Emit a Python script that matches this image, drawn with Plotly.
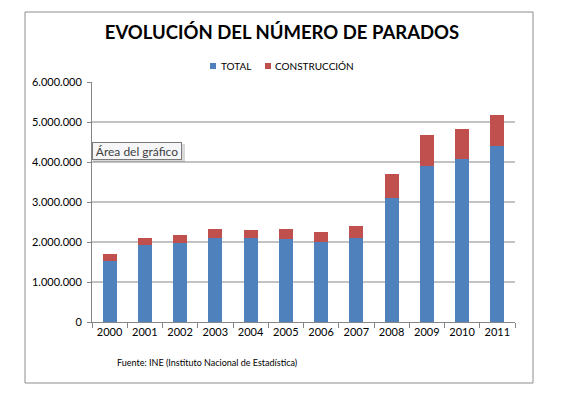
import plotly.graph_objects as go

years = ["2000", "2001", "2002", "2003", "2004", "2005", "2006", "2007", "2008", "2009", "2010", "2011"]
total = [1525000, 1925000, 1970000, 2090000, 2090000, 2070000, 2000000, 2110000, 3110000, 3910000, 4070000, 4410000]
construccion = [175000, 175000, 205000, 235000, 210000, 260000, 250000, 290000, 590000, 770000, 750000, 770000]
y_tickvals = [0, 1000000, 2000000, 3000000, 4000000, 5000000, 6000000]
y_ticktext = ["0", "1.000.000", "2.000.000", "3.000.000", "4.000.000", "5.000.000", "6.000.000"]
series_names = ["TOTAL", "CONSTRUCCIÓN"]
series_colors = ["#4F81BD", "#C0504D"]

# the page body has an 8px margin, so the figure is drawn 8px smaller and
# every target pixel position is shifted by that offset
OFF = 8
W, H = 566 - OFF, 398 - OFF
PLOT_X0, PLOT_X1, PLOT_Y0, PLOT_Y1 = 92, 515, 82, 322  # target page pixels
L, R, T, B = PLOT_X0 - OFF, W - (PLOT_X1 - OFF), PLOT_Y0 - OFF, H - (PLOT_Y1 - OFF)
PW, PH = W - L - R, H - T - B


def px(x):
    return (x - OFF - L) / PW


def py(y):
    return (H - B - (y - OFF)) / PH


FONT = "Lato"
GRID = "#868686"

fig = go.Figure()
fig.add_trace(go.Bar(x=years, y=total, name=series_names[0], showlegend=False,
                     marker=dict(color=series_colors[0], line=dict(width=0))))
fig.add_trace(go.Bar(x=years, y=construccion, name=series_names[1], showlegend=False,
                     marker=dict(color=series_colors[1], line=dict(width=0))))

shapes = []
# gridlines (not at top of range)
for v in y_tickvals[1:-1]:
    shapes.append(dict(type="line", xref="paper", yref="y", x0=0, x1=1, y0=v, y1=v,
                       line=dict(color=GRID, width=1), layer="below"))
# outer chart border
shapes.append(dict(type="rect", xref="paper", yref="paper", x0=px(25), x1=px(533), y0=py(12), y1=py(383),
                   line=dict(color="#8c8c8c", width=1), layer="below"))
# tooltip shadow
shapes.append(dict(type="rect", xref="paper", yref="paper", x0=px(93), x1=px(185), y0=py(144), y1=py(162),
                   line=dict(width=0), fillcolor="rgba(0,0,0,0.15)", layer="above"))

# custom legend (small squares like the original)
legend_sq_x = [210, 265]
legend_tx_x = [219, 273]
annotations = []
for name, col, sx, tx in zip(series_names, series_colors, legend_sq_x, legend_tx_x):
    shapes.append(dict(type="rect", xref="paper", yref="paper", x0=px(sx), x1=px(sx + 6),
                       y0=py(63), y1=py(69), line=dict(width=0), fillcolor=col))
    annotations.append(dict(text=name, xref="paper", yref="paper", x=px(tx), y=py(66),
                            xanchor="left", yanchor="middle", showarrow=False,
                            font=dict(size=10, family=FONT, color="#000000")))

annotations += [
    dict(text="Área del gráfico", xref="paper", yref="paper", x=px(137), y=py(151),
         xanchor="center", yanchor="middle", showarrow=False, width=86, height=14, align="center",
         font=dict(size=12, family=FONT, color="#404040"),
         bgcolor="#f6f6f9", bordercolor="#7a7a7a", borderwidth=1, borderpad=1),
    dict(text="Fuente: INE (Instituto Nacional de Estadística)", xref="paper", yref="paper",
         x=px(115), y=py(362), xanchor="left", yanchor="middle", showarrow=False,
         font=dict(size=9, family=FONT, color="#000000")),
]

fig.update_layout(
    width=W, height=H,
    margin=dict(l=L, r=R, t=T, b=B),
    paper_bgcolor="white", plot_bgcolor="white",
    barmode="stack", bargap=0.6,
    font=dict(family=FONT, size=11, color="#000000"),
    title=dict(text="<b>EVOLUCIÓN DEL NÚMERO DE PARADOS</b>", xref="container", yref="container",
               x=(282 - OFF) / W, y=1 - (33 - OFF) / H, xanchor="center", yanchor="middle",
               font=dict(family=FONT, size=18.5, color="#000000")),
    showlegend=False,
    xaxis=dict(type="category", showline=True, linecolor=GRID, linewidth=1,
               ticks="outside", tickson="boundaries", ticklen=5, tickcolor=GRID,
               showgrid=False, tickfont=dict(size=11, family=FONT)),
    yaxis=dict(range=[0, 6000000], tickvals=y_tickvals, ticktext=y_ticktext,
               showline=True, linecolor=GRID, linewidth=1, ticks="outside", ticklen=4,
               tickcolor=GRID, showgrid=False, zeroline=False, ticklabelstandoff=3,
               tickfont=dict(size=11, family=FONT)),
    shapes=shapes,
    annotations=annotations,
)

fig.write_html("out.html")
